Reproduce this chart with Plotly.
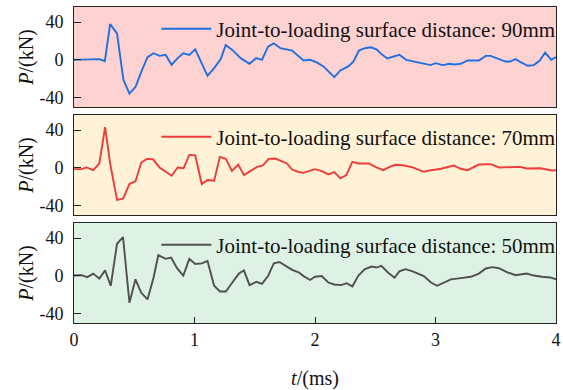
import plotly.graph_objects as go
from plotly.subplots import make_subplots

# ---- data ----
t90 = [0, 0.07, 0.16, 0.21, 0.256, 0.30, 0.357, 0.41, 0.46, 0.51, 0.56, 0.61, 0.66, 0.71, 0.76, 0.81, 0.86, 0.907, 0.957, 1.006,
       1.108, 1.163, 1.218, 1.259, 1.314, 1.383, 1.457, 1.512, 1.56, 1.61, 1.658, 1.713, 1.81, 1.864, 1.905, 1.96, 2.015, 2.07,
       2.16, 2.21, 2.276, 2.32, 2.364, 2.414, 2.463, 2.51, 2.55, 2.6, 2.647, 2.70, 2.757, 2.826, 2.91, 2.96, 3.0, 3.06, 3.115,
       3.156, 3.21, 3.266, 3.36, 3.417, 3.458, 3.513, 3.58, 3.62, 3.665, 3.71, 3.766, 3.816, 3.865, 3.91, 3.96, 4.0]
p90 = [0, 0, 0, 0.7, -1.4, 37.9, 28, -21, -35.8, -28.8, -12.3, 2.8, 7, 4.2, 5.3, -5.3, 1.8, 7, 5.3, 11.2,
       -17, -8.8, 0.7, 15.8, 10.5, 1.8, -4.2, 1.8, 0, 14, 17.5, 12.3, 9.8, 3.5, -0.7, 0, -2.8, -7,
       -18.3, -11.2, -7, -1.8, 9.8, 12.3, 13.3, 11.2, 6.3, 1.4, 3.5, 5.3, 0, -1.8, -3.5, -5.6, -3.5, -5.6, -4.2,
       -4.9, -4.2, -0.7, -0.7, 4.2, 4.2, 1.8, -1.8, -1.8, 0.7, -2.8, -6.3, -5.6, -0.7, 7.7, 0, 2.8]

t70 = [0, 0.063, 0.105, 0.16, 0.21, 0.258, 0.30, 0.357, 0.407, 0.46, 0.51, 0.558, 0.605, 0.654, 0.71, 0.764, 0.81, 0.86,
       0.91, 0.957, 1.006, 1.06, 1.108, 1.163, 1.21, 1.26, 1.31, 1.363, 1.41, 1.466, 1.52, 1.567, 1.616, 1.67, 1.72, 1.767,
       1.81, 1.864, 1.905, 2.0, 2.056, 2.11, 2.16, 2.21, 2.26, 2.31, 2.36, 2.447, 2.51, 2.565, 2.62, 2.667, 2.744, 2.81,
       2.903, 2.963, 3.046, 3.15, 3.21, 3.266, 3.36, 3.458, 3.527, 3.62, 3.7, 3.76, 3.87, 3.967, 4.0]
p70 = [-1.4, -1.4, 0.4, -2.5, 4.6, 43, 4.6, -34, -32.6, -17.2, -14.4, 5.6, 9.5, 9.1, 0.4, -4.2, -8.4, 0.4,
       -0.4, 13.7, 13.3, -17.2, -13, -13.7, 11.6, 9.5, -3.2, 3.5, -7.7, -3.2, 1, 2.5, 9.5, 9.8, 7.4, 4.6,
       -1.8, -4.4, -5.3, -1.4, -3.5, -7, -4.6, -11.2, -7.7, 6.3, 4.6, 4.6, 0.4, -2.5, 1, 3.2, 2.5, 0.4,
       -4.2, -2.5, -1, 2.5, -1, -2.5, 3.5, 3.9, 0.4, 0.4, 1, -0.7, -0.4, -2.8, -2.5]

t50 = [0, 0.063, 0.11, 0.16, 0.21, 0.258, 0.305, 0.357, 0.407, 0.46, 0.51, 0.558, 0.61, 0.66, 0.70, 0.76, 0.806, 0.855,
       0.907, 0.957, 1.006, 1.06, 1.108, 1.163, 1.212, 1.26, 1.314, 1.369, 1.41, 1.457, 1.512, 1.56, 1.61, 1.658, 1.705,
       1.76, 1.81, 1.864, 1.905, 1.96, 2.0, 2.056, 2.11, 2.16, 2.216, 2.263, 2.31, 2.36, 2.414, 2.47, 2.51, 2.55, 2.61,
       2.66, 2.70, 2.75, 2.81, 2.903, 2.963, 3.013, 3.074, 3.128, 3.21, 3.293, 3.36, 3.417, 3.47, 3.527, 3.596, 3.665,
       3.755, 3.816, 3.884, 3.953, 4.0]
p50 = [0.3, 0.7, -1.4, 2.4, -3, 5.8, -10.5, 34, 41, -28.5, -3.7, -18, -25, -2, 22, 18, 19.3, 8.1,
       0.3, 18, 12.5, 13.2, 15.6, -10.5, -16.6, -16.6, -7.1, 2.4, 5.8, -9.8, -6.4, -8.5, -0.3, 13.2, 14.6,
       9.8, 6.4, 3.7, -0.3, -4.4, -1, -0.3, -7.1, -9.2, -9.8, -7.8, -11.2, 0.3, 7.1, 9.8, 8.8, 10.5, 3,
       -2, 4.7, 7.1, 4.7, -0.3, -7.1, -10.5, -7.1, -3.7, -2.4, -1, 2.4, 7.8, 9.2, 8.1, 3.7, 0.7,
       2.4, 0.3, -1, -1.7, -3.7]

names = ["Joint-to-loading surface distance: 90mm",
         "Joint-to-loading surface distance: 70mm",
         "Joint-to-loading surface distance: 50mm"]
series = [(t90, p90), (t70, p70), (t50, p50)]
line_colors = ["#1F6FDF", "#F03B3B", "#4F4F4F"]
bg_colors = ["#FFD2D2", "#FFF2D6", "#DDF2E4"]
yticks = [-40, 0, 40]
yticklabels = ["-40", "0", "40"]
xticks = [0, 1, 2, 3, 4]
xticklabels = ["0", "1", "2", "3", "4"]

FONT = "Liberation Serif, Times New Roman, serif"

W, H = 563, 390
ML, MR, MT, MB = 74, 3, 7, 67
plot_h = H - MT - MB
gap = 8

fig = make_subplots(rows=3, cols=1, shared_xaxes=True, vertical_spacing=gap / plot_h)

legend_names = ["legend", "legend2", "legend3"]
for i, ((tx, py), nm) in enumerate(zip(series, names)):
    fig.add_trace(go.Scatter(x=tx, y=py, mode="lines", name=nm,
                             line=dict(color=line_colors[i], width=1.9),
                             legend=legend_names[i]), row=i + 1, col=1)

# panel backgrounds
for i in range(3):
    xr = "x domain" if i == 0 else f"x{i+1} domain"
    yr = "y domain" if i == 0 else f"y{i+1} domain"
    fig.add_shape(type="rect", xref=xr, yref=yr, x0=0, x1=1, y0=0, y1=1,
                  fillcolor=bg_colors[i], line=dict(width=0), layer="below")

panel_h = (plot_h - 2 * gap) / plot_h / 3
tops = [1, 1 - panel_h - gap / plot_h, 1 - 2 * (panel_h + gap / plot_h)]
leg = {}
for i in range(3):
    leg[legend_names[i]] = dict(x=1.009, y=tops[i] - 0.005, xanchor="right", yanchor="top",
                               bgcolor="rgba(0,0,0,0)", borderwidth=0,
                               font=dict(family=FONT, size=21, color="#111"),
                               itemwidth=50, tracegroupgap=0)
fig.update_layout(**leg)

for i in range(3):
    fig.update_yaxes(row=i + 1, col=1, range=[-50, 56], tickvals=yticks, ticktext=yticklabels,
                     ticks="inside", ticklen=7, tickcolor="#222", tickwidth=1,
                     showline=True, linecolor="#222", linewidth=1, mirror=True,
                     showgrid=False, zeroline=False,
                     tickfont=dict(family=FONT, size=18, color="#111"),
                     ticklabelstandoff=6,
                     title=dict(text="<i>P</i>/(kN)", font=dict(family=FONT, size=20, color="#111"), standoff=0))
    fig.update_xaxes(row=i + 1, col=1, range=[0, 4], tickvals=xticks, ticktext=xticklabels,
                     showline=True, linecolor="#222", linewidth=1, mirror=True,
                     showgrid=False, zeroline=False,
                     ticks="inside" if i == 2 else "", ticklen=6, tickcolor="#222",
                     showticklabels=(i == 2), ticklabeloverflow="allow",
                     tickfont=dict(family=FONT, size=18, color="#111"))
fig.update_xaxes(row=3, col=1,
                 title=dict(text="<i>t</i>/(ms)", font=dict(family=FONT, size=20, color="#111"), standoff=22))

fig.update_layout(width=W, height=H, margin=dict(l=ML, r=MR, t=MT, b=MB),
                  paper_bgcolor="white", plot_bgcolor="rgba(0,0,0,0)",
                  showlegend=True)

fig.write_html("out.html")
